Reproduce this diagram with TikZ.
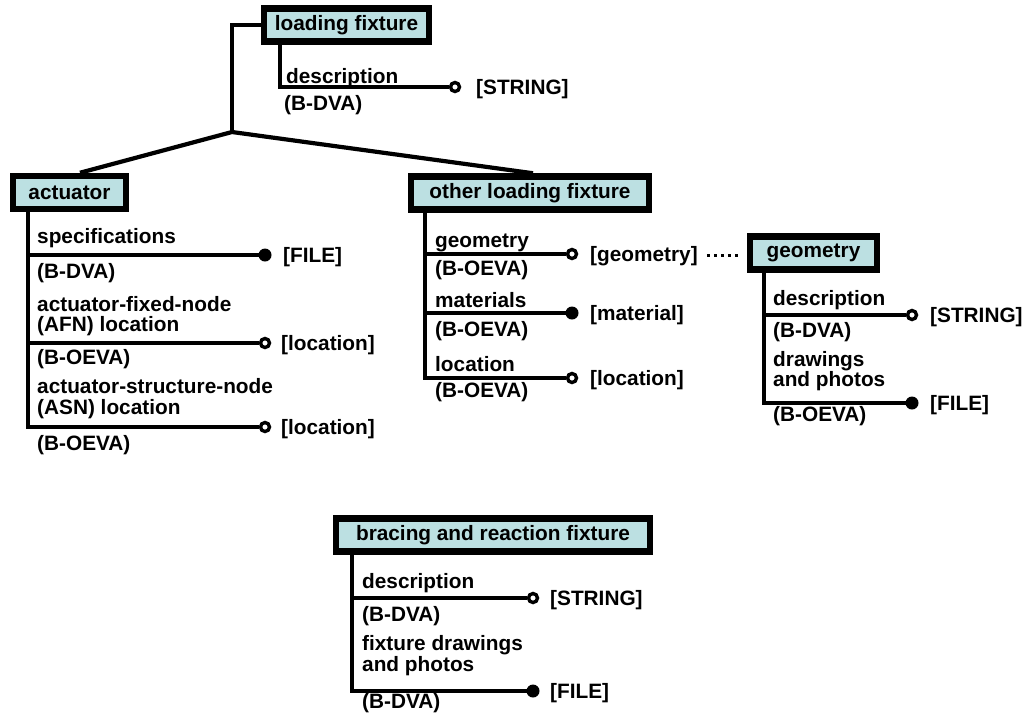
\documentclass[tikz,border=0pt]{standalone}
\usepackage{fontspec}
\setmainfont{Liberation Sans}
\usetikzlibrary{calc}
\definecolor{boxfill}{RGB}{188,224,226}
\newcommand\labfont{\bfseries\fontsize{20.8}{20.8}\selectfont}
\tikzset{
  ent/.style={draw=black, line width=6.5pt, fill=boxfill, inner sep=0pt, minimum height=33pt, font=\labfont},
  lbl/.style={anchor=base west, inner sep=0pt, font=\labfont},
  conn/.style={line width=4.2pt},
  opendot/.style={circle, draw=black, fill=white, line width=3.4pt, minimum size=9pt, inner sep=0pt},
  fulldot/.style={circle, fill=black, minimum size=13pt, inner sep=0pt},
  dotline/.style={line width=3.2pt, dash pattern=on 3.2pt off 3.8pt},
}
\begin{document}
\begin{tikzpicture}[x=1pt,y=-1pt]
\useasboundingbox (0,0) rectangle (1030,713);

% ---------- boxes ----------
\node[ent, minimum width=165pt] (lf)  at (346.5,25) {loading fixture};
\node[ent, minimum width=113pt] (act) at (69.5,192.5) {actuator};
\node[ent, minimum width=238pt] (oth) at (530,193) {other loading fixture};
\node[ent, minimum width=127pt] (geo) at (813.5,253) {geometry};
\node[ent, minimum width=314pt] (brf) at (493,535) {bracing and reaction fixture};

% ---------- top tree ----------
\coordinate (J) at (232,132);
\coordinate (ja) at ($(act.north)+(10.5,0)$);
\coordinate (jo) at ($(oth.north)+(3,0)$);
\draw[conn, line join=miter] (lf.west) -| (J);
\draw[conn, line join=miter] (ja) -- (J) -- (jo);

% ---------- loading fixture attributes ----------
\coordinate (lfc1) at (280,87);
\node[opendot] (lfd1) at (455,87) {};
\draw[conn, line join=miter] (lf.south -| lfc1) |- (lfd1.west);
\node[lbl] (lfn1) at (286,83) {description};
\node[lbl] (lfm1) at (284,110) {(B-DVA)};
\node[lbl] (lft1) at (476,94) {[STRING]};

% ---------- actuator attributes ----------
\coordinate (ac1) at (28,255);
\coordinate (ac2) at (28,343);
\coordinate (ac3) at (28,427);
\node[fulldot] (ad1) at (265,255) {};
\node[opendot] (ad2) at (265,343) {};
\node[opendot] (ad3) at (265,427) {};
\draw[conn, line join=miter] (act.south -| ac3) |- (ad3.west);
\draw[conn] (ac1) -- (ad1.center);
\draw[conn] (ac2) -- (ad2.west);
\node[lbl] (an1)  at (37,243) {specifications};
\node[lbl] (am1)  at (37,278) {(B-DVA)};
\node[lbl] (an2a) at (37,311) {actuator-fixed-node};
\node[lbl] (an2b) at (37,331) {(AFN) location};
\node[lbl] (am2)  at (37,364) {(B-OEVA)};
\node[lbl] (an3a) at (37,393) {actuator-structure-node};
\node[lbl] (an3b) at (37,414) {(ASN) location};
\node[lbl] (am3)  at (37,450) {(B-OEVA)};
\node[lbl] (at1) at (283,262) {[FILE]};
\node[lbl] (at2) at (281,350) {[location]};
\node[lbl] (at3) at (281,434) {[location]};

% ---------- other loading fixture attributes ----------
\coordinate (oc1) at (425,254);
\coordinate (oc2) at (425,313);
\coordinate (oc3) at (425,378);
\node[opendot] (od1) at (572,254) {};
\node[fulldot] (od2) at (572,313) {};
\node[opendot] (od3) at (572,378) {};
\draw[conn, line join=miter] (oth.south -| oc3) |- (od3.west);
\draw[conn] (oc1) -- (od1.west);
\draw[conn] (oc2) -- (od2.center);
\node[lbl] (on1) at (435,247) {geometry};
\node[lbl] (om1) at (435,275) {(B-OEVA)};
\node[lbl] (on2) at (435,307) {materials};
\node[lbl] (om2) at (435,336) {(B-OEVA)};
\node[lbl] (on3) at (435,371) {location};
\node[lbl] (om3) at (435,397) {(B-OEVA)};
\node[lbl] (ot1) at (590,261) {[geometry]};
\node[lbl] (ot2) at (590,320) {[material]};
\node[lbl] (ot3) at (590,385) {[location]};
\coordinate (gd) at (ot1.east -| geo.west);
\draw[dotline] ([xshift=9pt]ot1.east) -- ([xshift=-6pt]gd);

% ---------- geometry attributes ----------
\coordinate (gc1) at (764,315);
\coordinate (gc2) at (764,403);
\node[opendot] (gd1) at (912,315) {};
\node[fulldot] (gd2) at (912,403) {};
\draw[conn, line join=miter] (geo.south -| gc2) |- (gd2.center);
\draw[conn] (gc1) -- (gd1.west);
\node[lbl] (gn1)  at (773,305) {description};
\node[lbl] (gm1)  at (773,337) {(B-DVA)};
\node[lbl] (gn2a) at (773,366) {drawings};
\node[lbl] (gn2b) at (773,386) {and photos};
\node[lbl] (gm2)  at (773,421) {(B-OEVA)};
\node[lbl] (gt1) at (930,322) {[STRING]};
\node[lbl] (gt2) at (930,410) {[FILE]};

% ---------- bracing and reaction fixture attributes ----------
\coordinate (bc1) at (352,598);
\coordinate (bc2) at (352,691);
\node[opendot] (bd1) at (533,598) {};
\node[fulldot] (bd2) at (533,691) {};
\draw[conn, line join=miter] (brf.south -| bc2) |- (bd2.center);
\draw[conn] (bc1) -- (bd1.west);
\node[lbl] (bn1)  at (362,588) {description};
\node[lbl] (bm1)  at (362,621) {(B-DVA)};
\node[lbl] (bn2a) at (362,650) {fixture drawings};
\node[lbl] (bn2b) at (362,671) {and photos};
\node[lbl] (bm2)  at (362,708.5) {(B-DVA)};
\node[lbl] (bt1) at (550,605) {[STRING]};
\node[lbl] (bt2) at (550,698) {[FILE]};
\end{tikzpicture}
\end{document}
